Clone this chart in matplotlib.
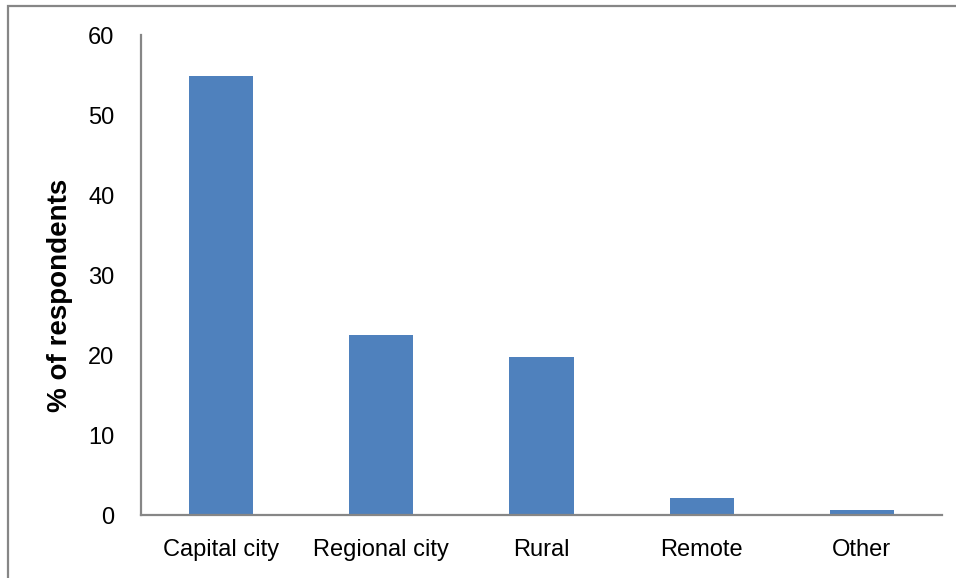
import matplotlib
matplotlib.use("Agg")
import matplotlib.pyplot as plt
from matplotlib.patches import Rectangle

categories = ["Capital city", "Regional city", "Rural", "Remote", "Other"]
percent = [54.9, 22.5, 19.75, 2.1, 0.6]
yticks = [0, 10, 20, 30, 40, 50, 60]

W, H = 956, 578
fig = plt.figure(figsize=(W / 100, H / 100), dpi=100)
plt.rcParams["font.family"] = ["Liberation Sans", "DejaVu Sans"]

ax = fig.add_axes([141 / W, 1 - 515 / H, (942 - 141) / W, (515 - 35) / H])
ax.bar(range(len(categories)), percent, width=0.4, color="#4f81bd", zorder=2)

ax.set_xlim(-0.5, len(categories) - 0.5)
ax.set_ylim(0, 60)
ax.set_yticks(yticks)
ax.set_xticks(range(len(categories)))
ax.set_xticklabels(categories)
ax.tick_params(axis="both", length=0, labelsize=17, colors="#000000")
ax.tick_params(axis="y", pad=19)
ax.tick_params(axis="x", pad=17)

for s in ["top", "right"]:
    ax.spines[s].set_visible(False)
for s in ["left", "bottom"]:
    ax.spines[s].set_color("#868686")
    ax.spines[s].set_linewidth(1.6)

ax.set_ylabel("% of respondents", fontsize=20, fontweight="bold")
ax.yaxis.set_label_coords(-0.085, 0.458)

# outer chart frame
fig.patches.append(Rectangle((8 / W, -0.05), 1.1, 1 - 6 / H + 0.05,
                             transform=fig.transFigure, fill=False,
                             edgecolor="#868686", linewidth=1.6))

fig.savefig("out.png", dpi=100)
